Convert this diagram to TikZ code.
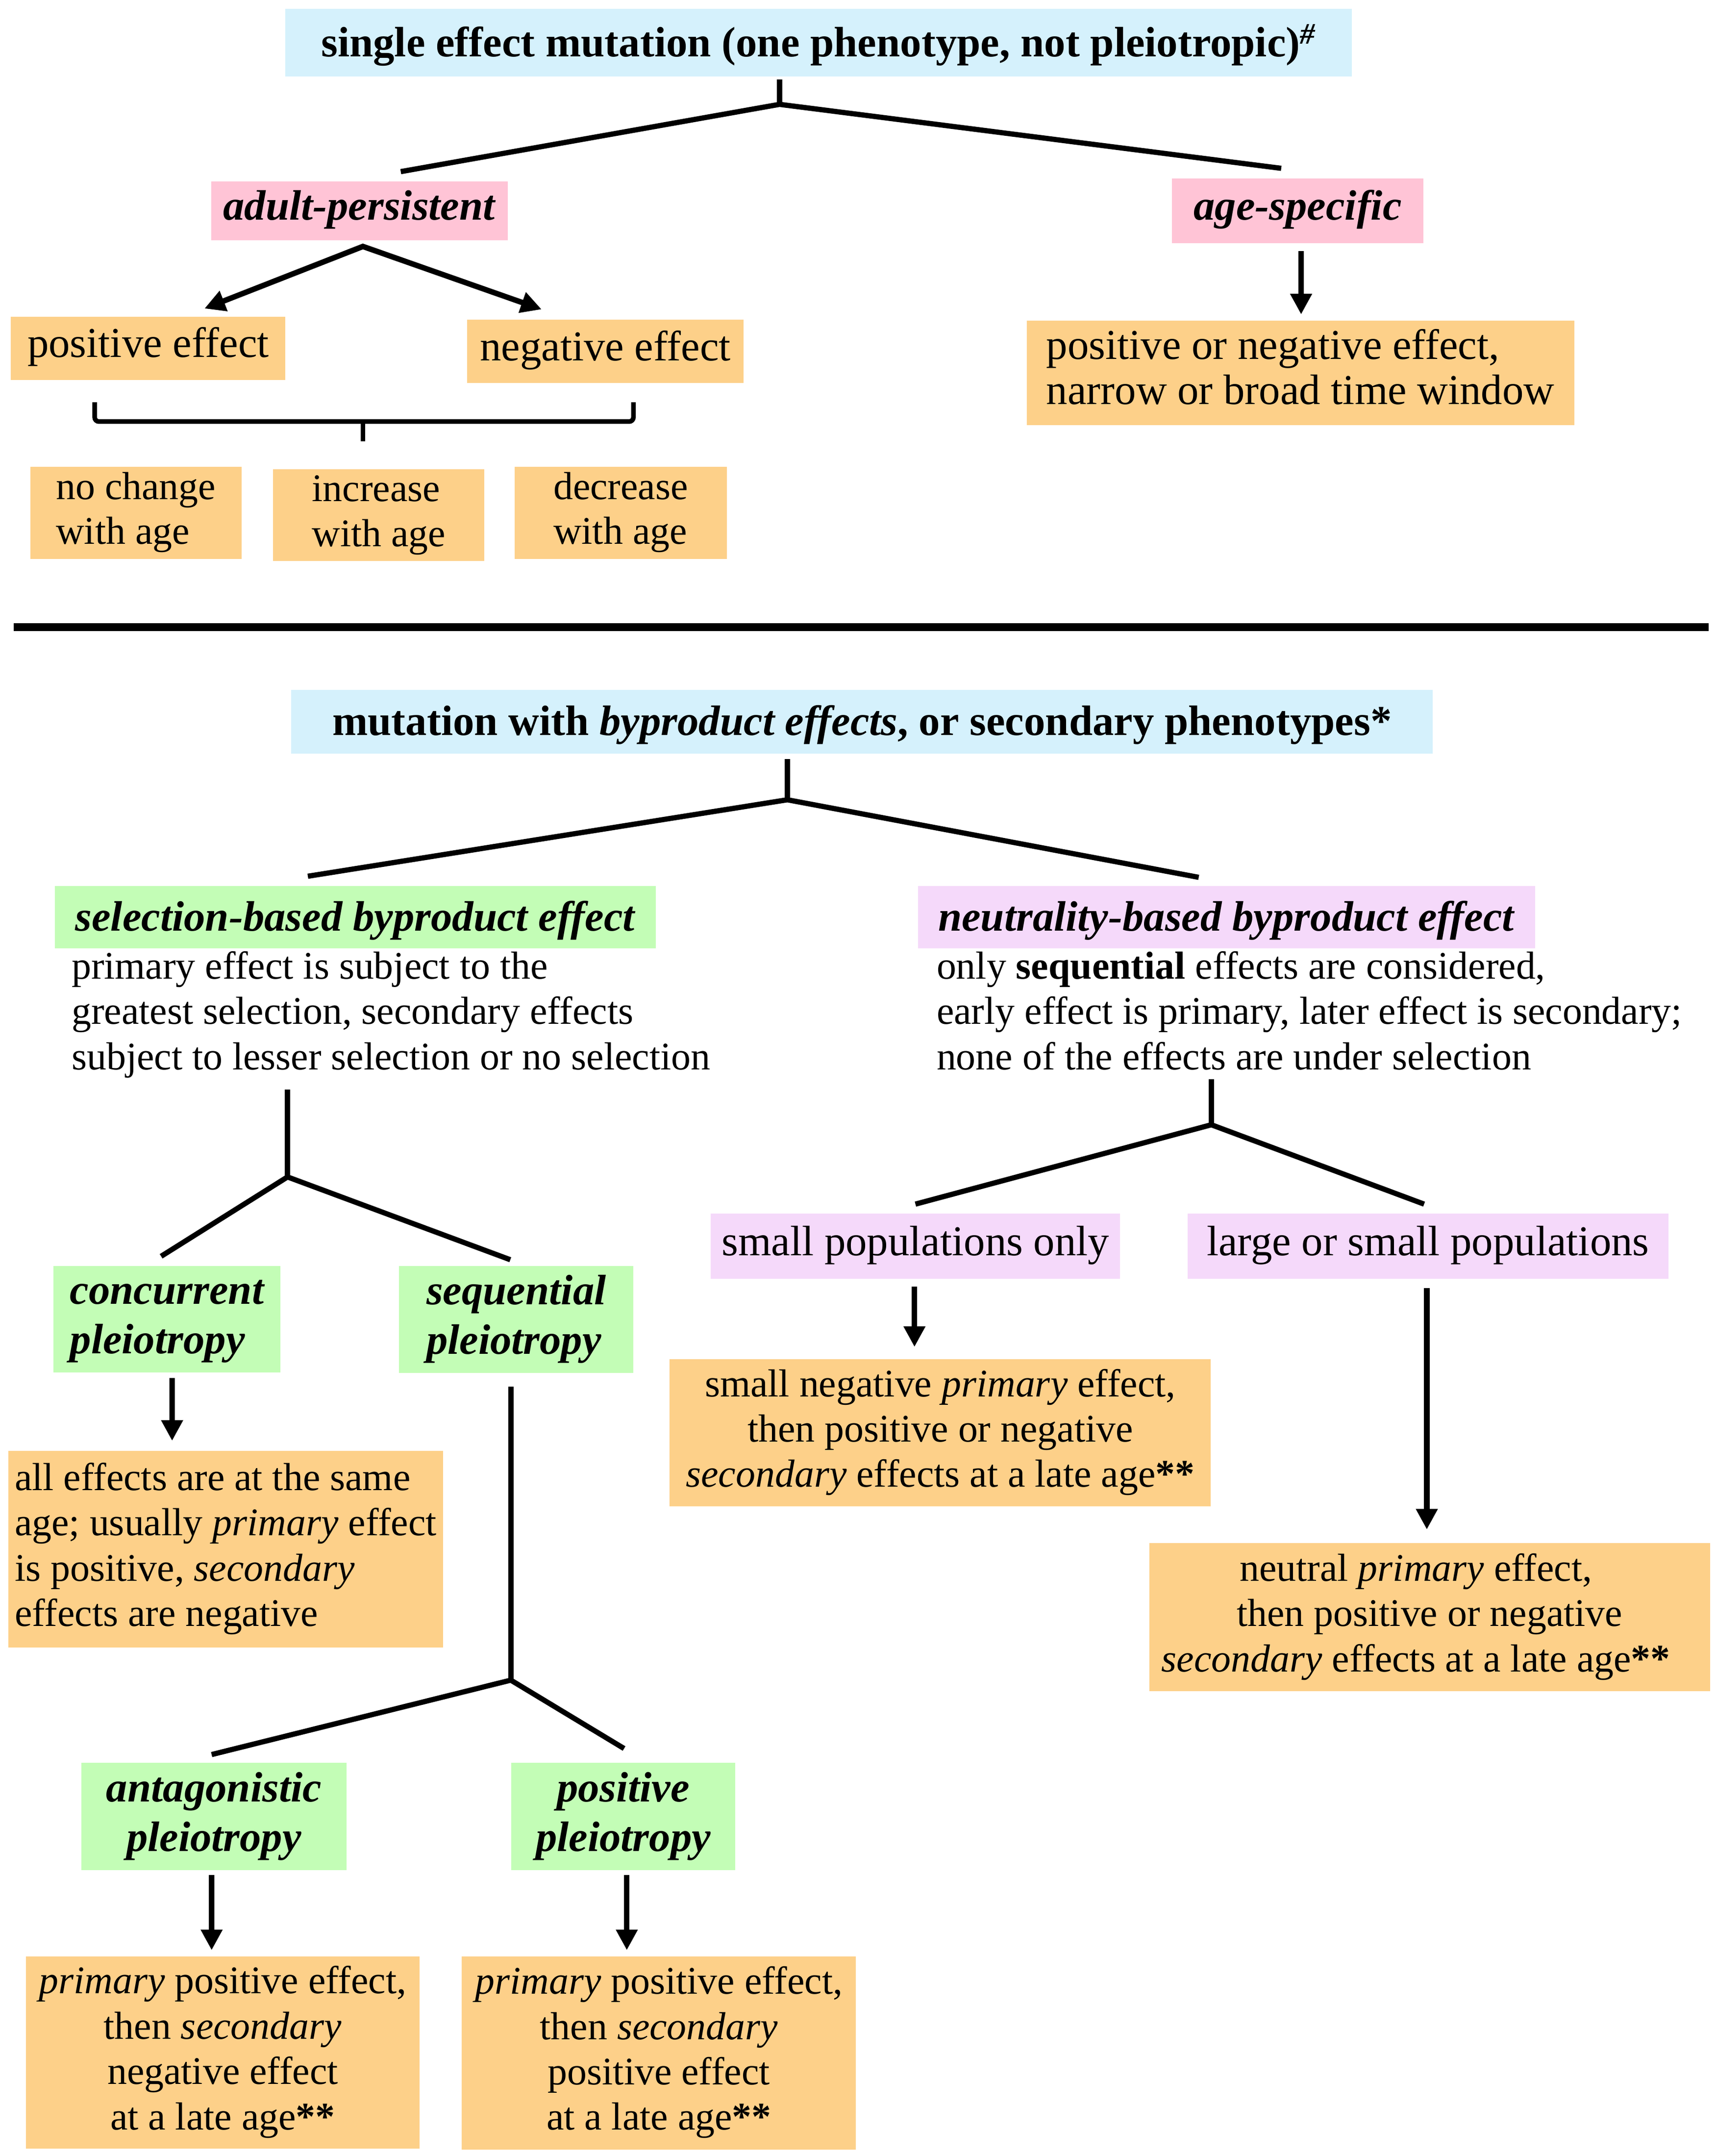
\documentclass[tikz,border=0pt]{standalone}
\usepackage{fontspec}
\setmainfont{Liberation Serif}
\usetikzlibrary{arrows.meta,calc}
\definecolor{cBlue}{HTML}{D5F1FC}
\definecolor{cPink}{HTML}{FFC4D6}
\definecolor{cOrange}{HTML}{FDD089}
\definecolor{cGreen}{HTML}{C3FDB6}
\definecolor{cLav}{HTML}{F5D9FA}
\newcommand\tstrut{\rule[-5.8pt]{0pt}{32.7pt}}
\begin{document}
\begin{tikzpicture}[x=1pt,y=-1pt,
  bx/.style={rectangle,inner sep=0pt,outer sep=0pt},
  fb/.style={bx,fill=cBlue}, fp/.style={bx,fill=cPink}, fo/.style={bx,fill=cOrange},
  fg/.style={bx,fill=cGreen}, fl/.style={bx,fill=cLav},
  big/.style={font=\fontsize{31}{32.7}\selectfont},
  mid/.style={font=\fontsize{28.5}{32.7}\selectfont},
  gbig/.style={font=\fontsize{31}{36}\selectfont\bfseries\itshape},
  body/.style={font=\fontsize{28.5}{33}\selectfont},
  tree/.style={line width=3.8pt},
  arr/.style={line width=4pt,-{Triangle[length=15pt,width=15pt]}},
  arrtwo/.style={line width=4pt,{Triangle[length=15pt,width=15pt]}-{Triangle[length=15pt,width=15pt]}},
]
\fill[white] (0,0) rectangle (1250,1570.3);
\useasboundingbox (0,0) rectangle (1250,1570.3);

% ---------- upper part ----------
\node[fb,big,minimum width=777pt,minimum height=49.1pt] (top1) at (596.5,31.05)
  {\tstrut\textbf{single effect mutation (one phenotype, not pleiotropic)\textsuperscript{\textit{\#}}}};
\node[fp,big,minimum width=216pt,minimum height=43pt] (adult) at (262,153.5)
  {\strut\textbf{\textit{adult-persistent}}};
\node[fp,big,minimum width=183pt,minimum height=47pt] (agesp) at (945.5,153.5)
  {\strut\textbf{\textit{age-specific}}};
\node[fo,big,minimum width=200pt,minimum height=46.2pt] (pos) at (108,253.7)
  {\strut positive effect};
\node[fo,big,minimum width=201.1pt,minimum height=46pt] (neg) at (441.05,256)
  {\strut negative effect};
\node[fo,big,align=left,minimum width=399pt,minimum height=75.9pt] (ageres) at (947.5,271.55)
  {\strut positive or negative effect,\\\strut narrow or broad time window};
\node[fo,mid,align=left,minimum width=154pt,minimum height=67pt] (nochange) at (99,373.5)
  {\strut no change\\\strut with age};
\node[fo,mid,align=left,minimum width=154pt,minimum height=67pt] (increase) at (276,375.1)
  {\strut increase\\\strut with age};
\node[fo,mid,align=left,minimum width=154.6pt,minimum height=67pt] (decrease) at (452.3,373.5)
  {\strut decrease\\\strut with age};

\coordinate (j1) at (568,76);
\draw[tree] ([xshift=-28.5pt,yshift=-2.4pt]top1.south) -- (j1);
\draw[tree] ([xshift=30pt,yshift=7pt]adult.north) -- (j1) -- ([xshift=-12pt,yshift=7.4pt]agesp.north);
\coordinate (ap) at ([xshift=2.4pt,yshift=-4.5pt]adult.south);
\draw[arrtwo] ([xshift=41pt,yshift=5.9pt]pos.north) -- (ap) -- ([xshift=-46.45pt,yshift=7.7pt]neg.north);
\draw[arr] ([xshift=2.5pt,yshift=-6pt]agesp.south) -- ([xshift=0.5pt,yshift=4.6pt]ageres.north);

% brace
\coordinate (bl) at (69,293);
\coordinate (br) at (461.5,293);
\coordinate (bm) at (264.4,307);
\coordinate (bt) at (264.4,321.4);
\draw[line width=3.4pt,rounded corners=3pt] (bl) -- (bl |- bm) -- (br |- bm) -- (br);
\draw[line width=3.4pt] (bm) -- (bt);

% divider
\coordinate (dl) at (10,456.8);
\coordinate (dr) at (1245,456.8);
\draw[line width=6pt] (dl) -- (dr);

% ---------- lower part ----------
\node[fb,big,minimum width=831.7pt,minimum height=46.5pt] (top2) at (628.15,525.55)
  {\tstrut\textbf{mutation with \textit{byproduct effects}, or secondary phenotypes*}};
\node[fg,big,minimum width=438pt,minimum height=45.4pt] (selhead) at (259,668)
  {\tstrut\textbf{\textit{selection-based byproduct effect}}};
\node[fl,big,minimum width=449.5pt,minimum height=45.4pt] (neuhead) at (893.75,668)
  {\tstrut\textbf{\textit{neutrality-based byproduct effect}}};
\node[body,align=left,anchor=north west,inner sep=0pt] (selbody) at (52,689.6)
  {\strut primary effect is subject to the\\\strut greatest selection, secondary effects\\\strut subject to lesser selection or no selection};
\node[body,align=left,anchor=north west,inner sep=0pt] (neubody) at (682.3,689.6)
  {\strut only \textbf{sequential} effects are considered,\\\strut early effect is primary, later effect is secondary;\\\strut none of the effects are under selection};
\node[fl,big,minimum width=298pt,minimum height=47.5pt] (smallpop) at (667,907.75)
  {\strut small populations only};
\node[fl,big,minimum width=350.1pt,minimum height=47.5pt] (largepop) at (1040.45,907.75)
  {\strut large or small populations};
\node[fg,gbig,align=left,minimum width=165.4pt,minimum height=77.5pt] (concurrent) at (121.6,960.75)
  {\strut concurrent\\\strut pleiotropy};
\node[fg,gbig,align=left,minimum width=170.7pt,minimum height=78pt] (sequential) at (376.15,961)
  {\strut sequential\\\strut pleiotropy};
\node[fo,body,align=center,minimum width=394.2pt,minimum height=107pt] (smallneg) at (685.1,1043.5)
  {\strut small negative \textit{primary} effect,\\\strut then positive or negative\\\strut\textit{secondary} effects at a late age\textbf{**}};
\node[fo,body,align=left,minimum width=316.9pt,minimum height=143.3pt] (alleff) at (164.45,1128.35)
  {\strut all effects are at the same\\\strut age; usually \textit{primary} effect\\\strut is positive, \textit{secondary}\\\strut effects are negative};
\node[fo,body,align=center,minimum width=408.7pt,minimum height=108pt] (neutres) at (1041.65,1177.9)
  {\strut neutral \textit{primary} effect,\hspace*{20pt}\\\strut then positive or negative\hspace*{20pt}\\\strut\textit{secondary} effects at a late age\textbf{**}\hspace*{20pt}};
\node[fg,gbig,align=center,minimum width=193.1pt,minimum height=78pt] (antag) at (155.85,1323)
  {\strut antagonistic\\\strut pleiotropy};
\node[fg,gbig,align=center,minimum width=163pt,minimum height=78pt] (posplei) at (454.1,1323)
  {\strut positive\\\strut pleiotropy};
\node[fo,body,align=center,minimum width=286.9pt,minimum height=139.8pt] (antres) at (162.25,1494.9)
  {\strut\textit{primary} positive effect,\\\strut then \textit{secondary}\\\strut negative effect\\\strut at a late age\textbf{**}};
\node[fo,body,align=center,minimum width=287.2pt,minimum height=140.5pt] (posres) at (480.1,1495.25)
  {\strut\textit{primary} positive effect,\\\strut then \textit{secondary}\\\strut positive effect\\\strut at a late age\textbf{**}};

\coordinate (j2) at (573.7,582.5);
\draw[tree] ([xshift=-54.45pt,yshift=-4.2pt]top2.south) -- (j2);
\draw[tree] ([xshift=-34.7pt,yshift=7.1pt]selhead.north) -- (j2) -- ([xshift=-20.35pt,yshift=6.3pt]neuhead.north);

\coordinate (j3) at (209.5,857.2);
\draw[tree] ([xshift=157.5pt,yshift=-4.7pt]selbody.south west) -- (j3);
\draw[tree] ([xshift=-4.2pt,yshift=7pt]concurrent.north) -- (j3) -- ([xshift=-4.35pt,yshift=4.5pt]sequential.north);

\coordinate (j4) at (882.6,819.2);
\draw[tree] ([xshift=200.3pt,yshift=3.1pt]neubody.south west) -- (j4);
\draw[tree] ([yshift=7pt]smallpop.north) -- (j4) -- ([xshift=-2.85pt,yshift=7pt]largepop.north);

\draw[arr] ([xshift=-0.7pt,yshift=-5.5pt]smallpop.south) -- ([xshift=-18.8pt,yshift=9pt]smallneg.north);
\draw[arr] ([xshift=-0.85pt,yshift=-6.5pt]largepop.south) -- ([xshift=-2.05pt,yshift=9.9pt]neutres.north);
\draw[arr] ([xshift=3.8pt,yshift=-4.2pt]concurrent.south) -- ([xshift=-39.05pt,yshift=7.3pt]alleff.north);

\coordinate (j5) at (372.2,1223.7);
\draw[tree] ([xshift=-3.95pt,yshift=-9.9pt]sequential.south) -- (j5);
\draw[tree] ([xshift=-1.65pt,yshift=6.1pt]antag.north) -- (j5) -- ([xshift=0.6pt,yshift=10.5pt]posplei.north);
\draw[arr] ([xshift=-1.65pt,yshift=-3.6pt]antag.south) -- ([xshift=-8.05pt,yshift=4.6pt]antres.north);
\draw[arr] ([xshift=2.6pt,yshift=-3.6pt]posplei.south) -- ([xshift=-23.4pt,yshift=4.6pt]posres.north);
\end{tikzpicture}
\end{document}
